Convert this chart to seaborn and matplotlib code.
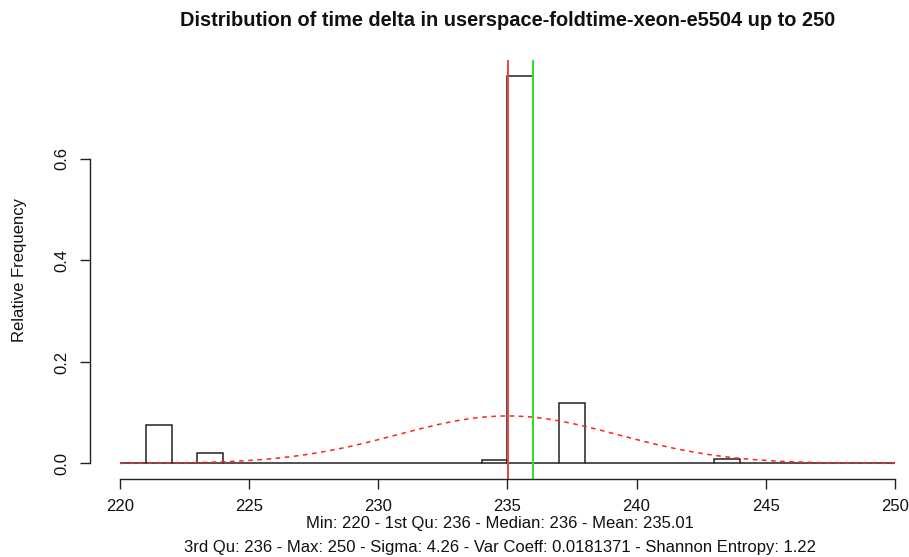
import numpy as np
import pandas as pd
import matplotlib
matplotlib.use("Agg")
import matplotlib.pyplot as plt
import seaborn as sns

# ---- data ----
bin_edges = list(range(220, 251))
rel_freq = [0.0005, 0.076, 0.0, 0.021, 0.0, 0.0, 0.0, 0.0, 0.0, 0.0,
            0.0, 0.0, 0.0, 0.001, 0.006, 0.764, 0.0, 0.120, 0.0, 0.001,
            0.0, 0.001, 0.0, 0.009, 0.0, 0.0, 0.0, 0.0, 0.0, 0.0005]
mean_val = 235.01
median_val = 236
sigma_val = 4.26
x_ticks = [220, 225, 230, 235, 240, 245, 250]
y_ticks = [0.0, 0.2, 0.4, 0.6]
title = "Distribution of time delta in userspace-foldtime-xeon-e5504 up to 250"
subtitle = ("Min: 220 - 1st Qu: 236 - Median: 236 - Mean: 235.01\n"
            "3rd Qu: 236 - Max: 250 - Sigma: 4.26 - Var Coeff: 0.0181371 - Shannon Entropy: 1.22")

sns.set_style("white")
plt.rcParams['font.family'] = ['Liberation Sans', 'DejaVu Sans']

fig = plt.figure(figsize=(9.09, 5.57), dpi=100)
ax = fig.add_axes([90/909, (557-479)/557, (909-90)/909, (479-60)/557])

centers = [(a + b) / 2 for a, b in zip(bin_edges[:-1], bin_edges[1:])]
df = pd.DataFrame({"x": centers, "w": rel_freq})
sns.histplot(data=df, x="x", weights="w", bins=bin_edges, stat="count",
             fill=False, element="bars", color="#222222", linewidth=1.1, ax=ax)

# normal density with the reported mean and sigma
xs = np.linspace(220, 250, 400)
dens = np.exp(-0.5 * ((xs - mean_val) / sigma_val) ** 2) / (sigma_val * np.sqrt(2 * np.pi))
sns.lineplot(x=xs, y=dens, color="#ff2020", linestyle=(0, (3, 3)), linewidth=1.1, ax=ax)

ax.axvline(mean_val, color="#ee4444", linewidth=1.4)
ax.axvline(median_val, color="#30e030", linewidth=1.4)

ax.set_xlim(218.84, 250.55)
ax.set_ylim(-0.0306, 0.795)
ax.set_xticks(x_ticks)
ax.set_yticks(y_ticks)
ax.set_yticklabels([f"{v:.1f}" for v in y_ticks], rotation=90, va="center")
for s in ["top", "right"]:
    ax.spines[s].set_visible(False)
ax.spines["left"].set_bounds(0, 0.6)
ax.spines["bottom"].set_bounds(220, 250)
for s in ["left", "bottom"]:
    ax.spines[s].set_color("#222222")
    ax.spines[s].set_linewidth(1.0)
ax.tick_params(axis="both", direction="out", length=7, width=1.0, color="#222222",
               labelsize=12, labelcolor="#111111", left=True, bottom=True)
ax.tick_params(axis="x", pad=7.5)
ax.tick_params(axis="y", pad=8)

ax.set_ylabel("Relative Frequency", fontsize=12, color="#111111")
ax.yaxis.set_label_coords(-0.077, 0.5)
ax.set_xlabel(subtitle, fontsize=12, color="#111111", labelpad=1, linespacing=1.8)
fig.text(508/909, 1 - 20/557, title, ha="center", va="center",
         fontsize=14.4, fontweight="bold", color="#111111")

fig.savefig("out.png", dpi=100)
